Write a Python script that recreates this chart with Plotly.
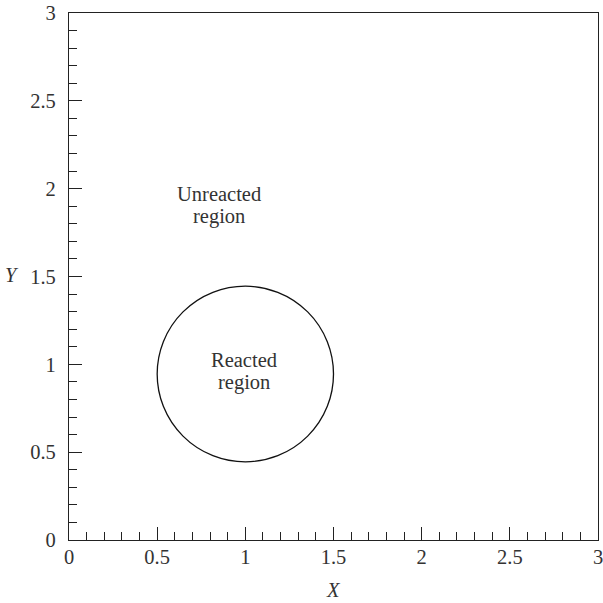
import plotly.graph_objects as go

x_ticks = [0, 0.5, 1, 1.5, 2, 2.5, 3]
x_tick_labels = ["0", "0.5", "1", "1.5", "2", "2.5", "3"]
y_ticks = [0, 0.5, 1, 1.5, 2, 2.5, 3]
y_tick_labels = ["0", "0.5", "1", "1.5", "2", "2.5", "3"]

circle_center = (1.0, 0.945)
circle_radius = 0.5

label_texts = ["Unreacted<br>region", "Reacted<br>region"]
label_x = [0.85, 0.99]
label_y = [1.907, 0.962]

font_family = "Liberation Serif"
txt_color = "#333333"
fsize = 20.5
line_gap = 22.5

fig = go.Figure()
fig.add_trace(go.Scatter(x=[0, 3], y=[0, 3], mode="markers",
                         marker=dict(opacity=0), hoverinfo="skip", showlegend=False))

cx, cy = circle_center
fig.add_shape(type="circle", xref="x", yref="y",
              x0=cx - circle_radius, x1=cx + circle_radius,
              y0=cy - circle_radius, y1=cy + circle_radius,
              line=dict(color="#111111", width=1.3))

for t, xx, yy in zip(label_texts, label_x, label_y):
    lines = t.split("<br>")
    n = len(lines)
    for i, ln in enumerate(lines):
        fig.add_annotation(x=xx, y=yy, text=ln, showarrow=False,
                           xanchor="center", yanchor="middle", borderpad=0,
                           yshift=((n - 1) / 2 - i) * line_gap,
                           font=dict(family=font_family, size=fsize, color=txt_color))

fig.add_annotation(xref="paper", yref="y", x=-0.108, y=1.51, text="<i>Y</i>", showarrow=False,
                   xanchor="center", yanchor="middle",
                   font=dict(family=font_family, size=fsize, color=txt_color))
fig.add_annotation(xref="x", yref="paper", x=1.5, y=-0.095, text="<i>X</i>", showarrow=False,
                   xanchor="center", yanchor="middle",
                   font=dict(family=font_family, size=fsize, color=txt_color))

axis_common = dict(
    showgrid=False, zeroline=False, showline=True, linecolor="#222222", linewidth=1.3,
    mirror=True, ticks="inside", ticklen=13, tickwidth=1.3, tickcolor="#222222",
    tickfont=dict(family=font_family, size=fsize, color=txt_color),
    minor=dict(ticks="inside", ticklen=8, tickwidth=1.3, tickcolor="#222222", dtick=0.1, showgrid=False),
    automargin=False, ticklabeloverflow="allow",
)

fig.update_xaxes(range=[0, 3], tickvals=x_ticks, ticktext=x_tick_labels,
                 ticklabelstandoff=-2, **axis_common)
fig.update_yaxes(range=[0, 3], tickvals=y_ticks, ticktext=y_tick_labels,
                 ticklabelstandoff=8, **axis_common)

fig.update_layout(
    width=603, height=603,
    margin=dict(l=69, r=5, t=13, b=63),
    plot_bgcolor="white", paper_bgcolor="white",
    showlegend=False,
)

fig.write_html("out.html", config={"displayModeBar": False},
               post_script="document.body.style.margin='0';")
